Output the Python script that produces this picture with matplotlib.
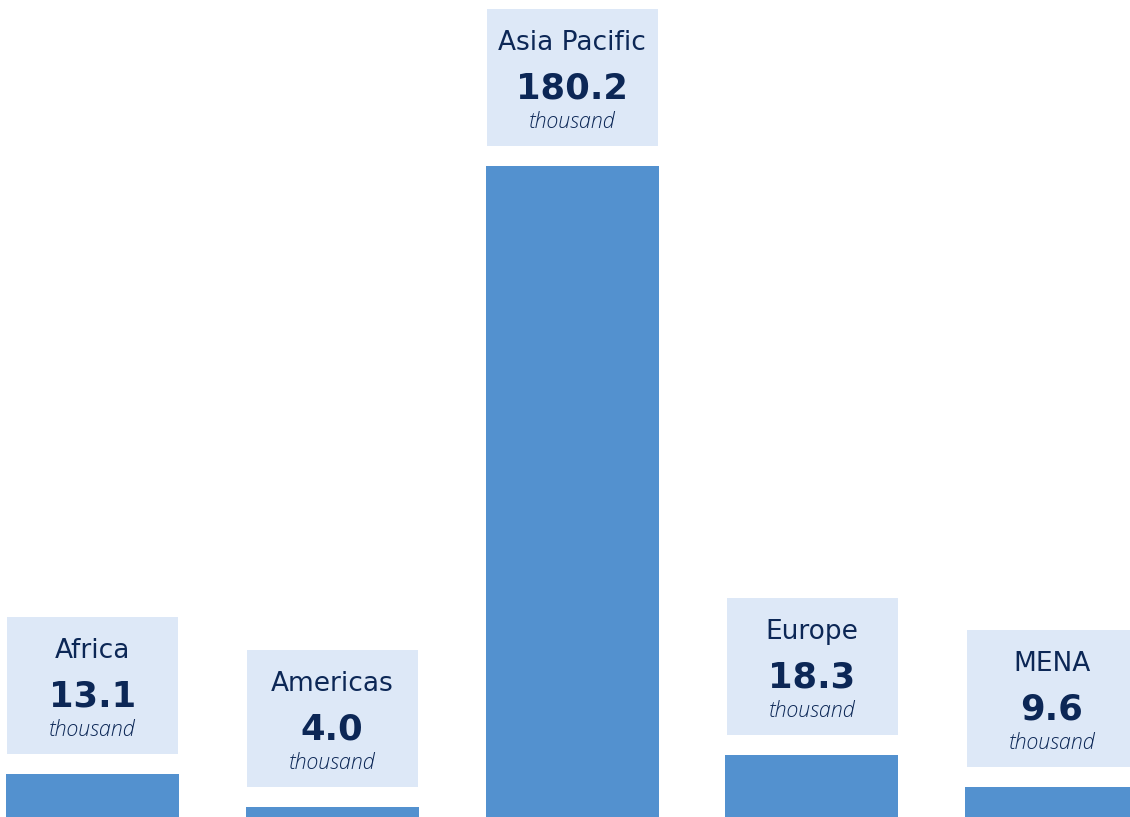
import matplotlib
matplotlib.use("Agg")
import matplotlib.pyplot as plt
from matplotlib.patches import Rectangle
from matplotlib.transforms import Affine2D

# regional totals, in thousands
regions = ["Africa", "Americas", "Asia Pacific", "Europe", "MENA"]
values = [13.1, 4.0, 180.2, 18.3, 9.6]
value_labels = ["13.1", "4.0", "180.2", "18.3", "9.6"]

BAR = "#5391cf"
BOX = "#dde8f7"
NAVY = "#0c2756"

fig = plt.figure(figsize=(11.3, 8.17), dpi=100)
ax = fig.add_axes([0, 0, 1, 1])
ax.set_xlim(-0.3857, 4.3265)
ax.set_ylim(1.374, 225.8)
ax.axis("off")

x = list(range(len(regions)))
ax.bar(x, values, width=0.7214, color=BAR, zorder=2)

# labels sit in a fixed-size box above each bar (pixel offsets)
for i, v in enumerate(values):
    px, py = ax.transData.transform((i, v))
    tr = Affine2D().translate(px, py)
    ax.add_patch(Rectangle((-85, 20), 171, 137, transform=tr,
                           facecolor=BOX, edgecolor="none", clip_on=False))
    ax.text(0, 123, regions[i], transform=tr, ha="center", va="center",
            fontsize=19, color=NAVY, family="DejaVu Sans")
    ax.text(0, 78, value_labels[i], transform=tr, ha="center", va="center",
            fontsize=25.5, fontweight="bold", color=NAVY, family="DejaVu Sans")
    ax.text(0, 44, "thousand", transform=tr, ha="center", va="center",
            fontsize=15.5, style="italic", fontweight="light", color=NAVY,
            family="Open Sans")

fig.savefig("out.png", dpi=100)
